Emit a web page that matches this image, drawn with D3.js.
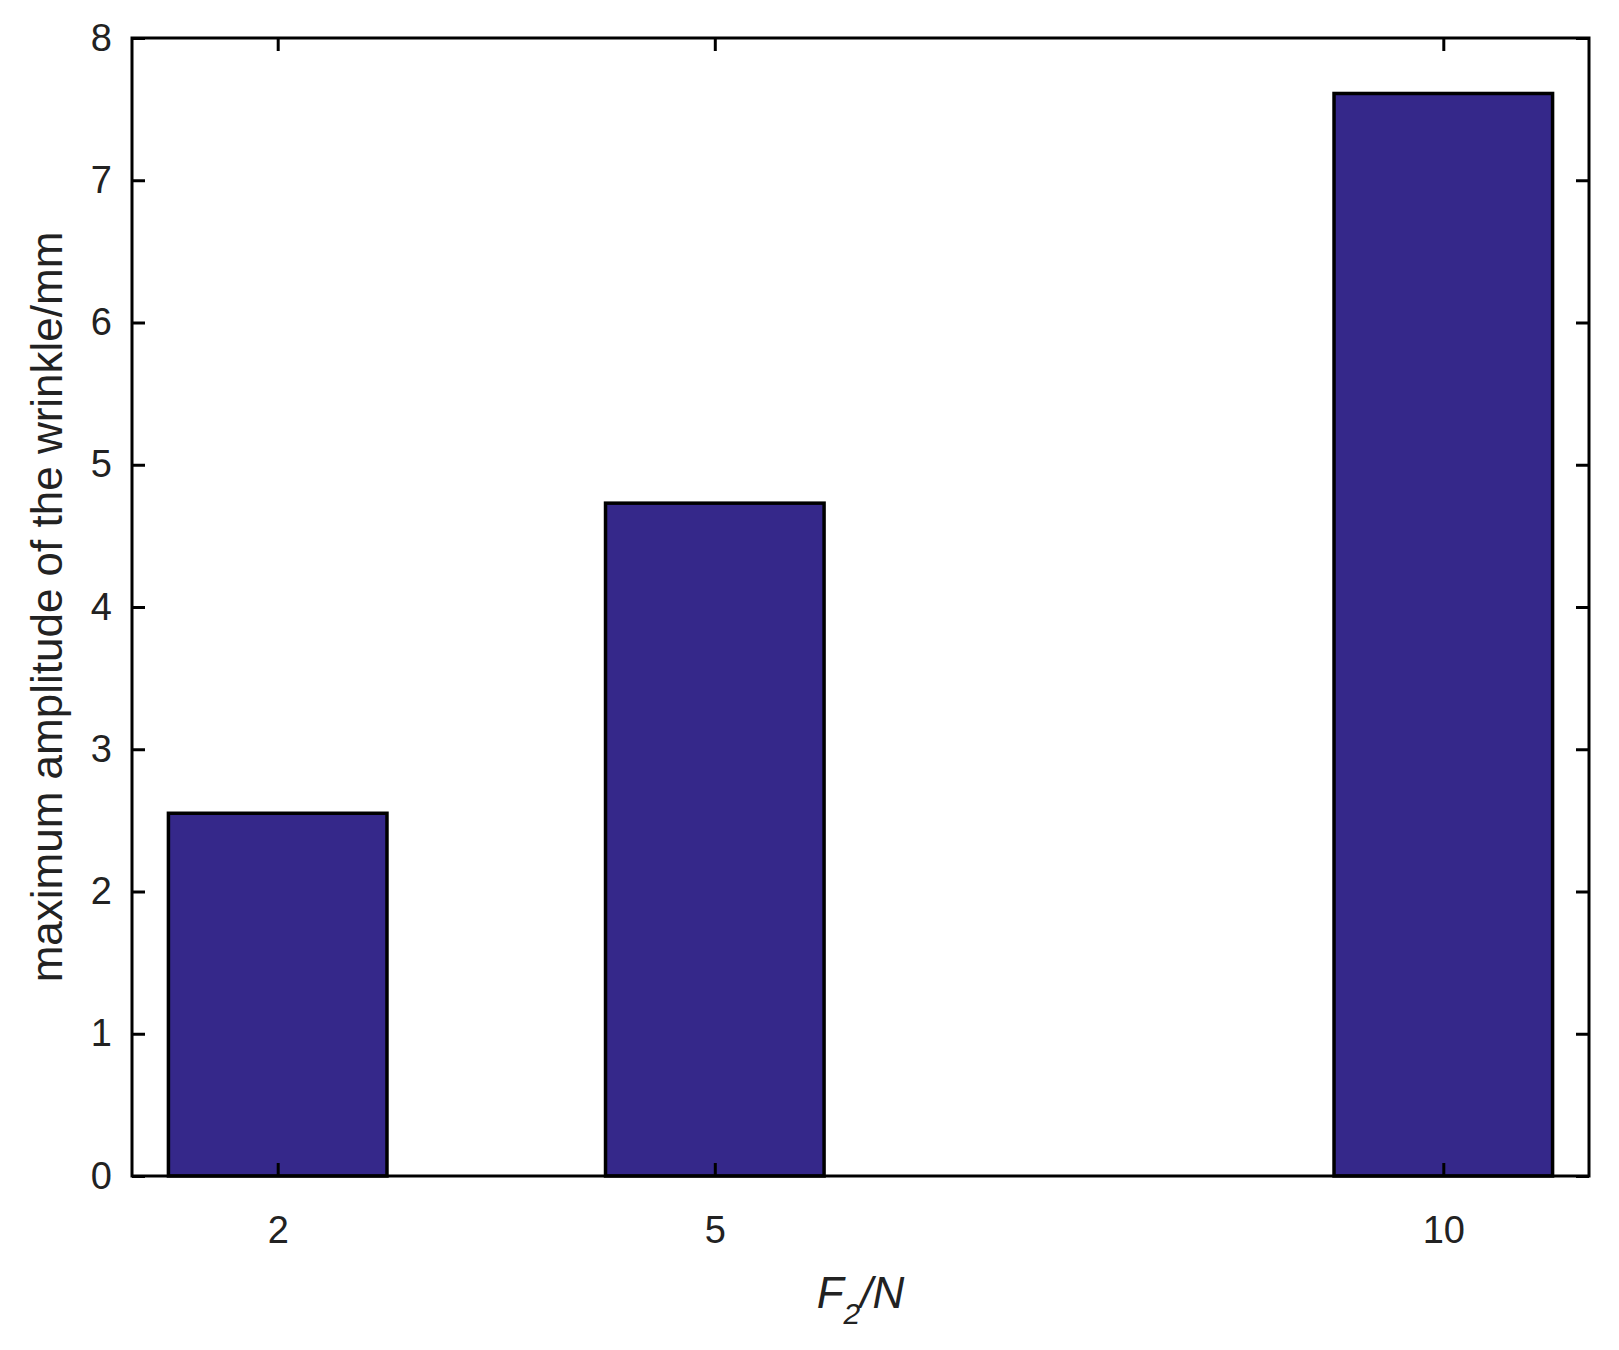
<!DOCTYPE html>
<html><head><meta charset="utf-8">
<script src="https://cdn.jsdelivr.net/npm/d3@7"></script>
<style>body{margin:0;background:#fff}</style>
</head><body>
<svg id="c" width="1619" height="1350"></svg>
<script>
const categories = [2, 5, 10];
const values = [2.55, 4.73, 7.61];
const yTicks = [0,1,2,3,4,5,6,7,8];

const svg = d3.select("#c");
const L=132, R=1589, T=38, B=1176;
const x = d3.scaleLinear().domain([1,11]).range([L,R]);
const y = d3.scaleLinear().domain([0,8]).range([B,T]);
const bw = x(1.75)-x(0.25);
const font = "Arial, 'Liberation Sans', sans-serif";

svg.selectAll("rect.bar").data(values).join("rect")
  .attr("x",(d,i)=>x(categories[i])-bw/2).attr("width",bw)
  .attr("y",d=>y(d)).attr("height",d=>B-y(d))
  .attr("fill","#35288a").attr("stroke","#000").attr("stroke-width",3.5);

const ax = (g)=>g.selectAll("text").attr("font-family",font).attr("font-size",38).attr("fill","#222");
svg.append("g").attr("transform",`translate(0,${B})`)
  .call(d3.axisBottom(x).tickValues(categories).tickSizeInner(-13).tickSizeOuter(0).tickPadding(40))
  .call(ax);
svg.append("g").attr("transform",`translate(0,${T})`)
  .call(d3.axisTop(x).tickValues(categories).tickSizeInner(-13).tickSizeOuter(0).tickFormat(""));
svg.append("g").attr("transform",`translate(${L},0)`)
  .call(d3.axisLeft(y).tickValues(yTicks).tickSizeInner(-13).tickSizeOuter(0).tickPadding(20))
  .call(ax);
svg.append("g").attr("transform",`translate(${R},0)`)
  .call(d3.axisRight(y).tickValues(yTicks).tickSizeInner(-13).tickSizeOuter(0).tickFormat(""));
svg.selectAll(".domain").remove();
svg.selectAll(".tick line").attr("stroke","#000").attr("stroke-width",3);
svg.append("rect").attr("x",L).attr("y",T).attr("width",R-L).attr("height",B-T)
  .attr("fill","none").attr("stroke","#000").attr("stroke-width",3);

const xl = svg.append("text").attr("x",(L+R)/2).attr("y",1308).attr("text-anchor","middle")
  .attr("font-family",font).attr("font-size",44).attr("font-style","italic").attr("fill","#222");
xl.append("tspan").text("F");
xl.append("tspan").attr("dy",16).attr("font-size",30).text("2");
xl.append("tspan").attr("dy",-16).text("/N");

svg.append("text").attr("transform",`translate(62,${(T+B)/2}) rotate(-90)`)
  .attr("text-anchor","middle").attr("font-family",font).attr("font-size",44).attr("fill","#222")
  .text("maximum amplitude of the wrinkle/mm");
</script>
</body></html>
